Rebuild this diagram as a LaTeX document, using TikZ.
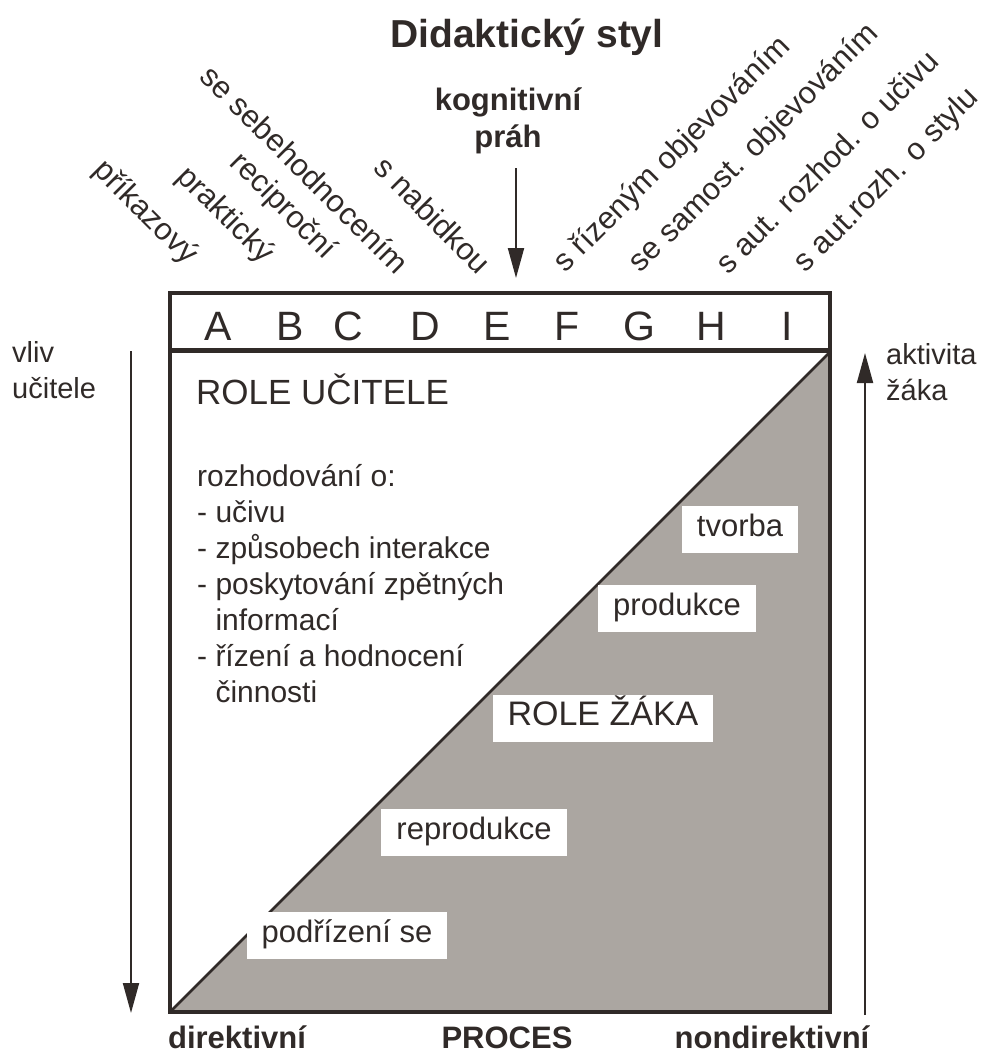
\documentclass[tikz,border=0pt]{standalone}
\usepackage{fontspec}
\setmainfont{Liberation Sans}
\usetikzlibrary{arrows.meta}
\definecolor{ink}{RGB}{48,42,40}
\definecolor{pupilgray}{RGB}{171,166,161}
\def\fs#1{\fontsize{#1}{#1}\selectfont}
\tikzset{
	lbl/.style={text=ink, inner sep=0pt},
	stylename/.style={lbl, font=\fs{31}},
	roletag/.style={fill=white, text=ink, inner xsep=15pt, inner ysep=9pt, text height=22pt, text depth=7pt, font=\fs{31}},
	bigarrow/.style={draw=ink, line width=2pt, -{Triangle[length=30pt,width=16pt,fill=ink]}}
}

\begin{document}
\begin{tikzpicture}[x=1pt,y=-1pt]
			%%%%% START %%%%%
			\useasboundingbox (0,0) rectangle (989,1055);
			
			\node[lbl, font=\bfseries\fs{39}, anchor=base] (title) at (527,47) {Didaktický styl};
			\node[lbl, font=\bfseries\fontsize{31}{37}\selectfont, align=center] (prah) at (508,121) {kognitivní\\práh};
			\coordinate (prahtip) at (516,278);
			\draw[bigarrow] ([yshift=-14pt]prah.south -| prahtip) -- (prahtip);
			
			% styles, left group
			\node[stylename, rotate=-45, anchor=east] (sA) at (192,260) {příkazový};
			\node[stylename, rotate=-45, anchor=east] (sB) at (268,259) {praktický};
			\node[stylename, rotate=-45, anchor=east] (sC) at (331,255) {reciproční};
			\node[stylename, rotate=-45, anchor=east] (sD) at (404,268) {se sebehodnocením};
			\node[stylename, rotate=-45, anchor=east] (sE) at (486,268) {s nabidkou};
			
			% styles, right group
			\node[stylename, rotate=45, anchor=west] (sF) at (560,268) {s řízeným objevováním};
			\node[stylename, rotate=45, anchor=west] (sG) at (635,268) {se samost. objevováním};
			\node[stylename, rotate=45, anchor=west] (sH) at (720,268) {s aut. rozhod. o učivu};
			\node[stylename, rotate=45, anchor=west] (sI) at (800,268) {s aut.rozh. o stylu};
			
			% box
			\fill[pupilgray] (170,1012) -- (830,352) -- (830,1012) -- cycle;
			\draw[ink, line width=2.5pt] (170,1012) -- (830,352);
			\draw[ink, line width=5pt] (170,350) -- (830,350);
			\draw[ink, line width=4pt] (170,293) rectangle (830,1012);
			
			\foreach \ltr/\xx in {A/218,B/290,C/348,D/425,E/497,F/567,G/639,H/711,I/787}
				\node[lbl, font=\fs{41}, anchor=base] (col\ltr) at (\xx,340) {\ltr};
			
			% side arrows
			\coordinate (vlivtop) at (131,351);
			\coordinate (vlivend) at (131,1013);
			\draw[bigarrow] (vlivtop) -- (vlivend);
			\coordinate (aktbot) at (865,1015);
			\coordinate (akttop) at (865,353);
			\draw[bigarrow] (aktbot) -- (akttop);
			
			\node[lbl, font=\fontsize{29}{36}\selectfont, align=left, anchor=north west] (vliv) at (12,341) {vliv\\učitele};
			\node[lbl, font=\fontsize{29}{36}\selectfont, align=left, anchor=north west] (aktivita) at (886,343) {aktivita\\žáka};
			
			% teacher
			\node[lbl, font=\fs{35}, anchor=base west] (roleu) at (196,404) {ROLE UČITELE};
			\node[lbl, font=\fontsize{30}{36}\selectfont, align=left, anchor=north west] (decide) at (197,464) {rozhodování o:\\- učivu\\- způsobech interakce\\- poskytování zpětných\\\hphantom{- }informací\\- řízení a hodnocení\\\hphantom{- }činnosti};
			
			% pupil
			\node[roletag] (tvorba) at (740,529) {tvorba};
			\node[roletag] (produkce) at (677,608) {produkce};
			\node[roletag, font=\fs{34}] (rolez) at (603,718) {ROLE ŽÁKA};
			\node[roletag] (reprodukce) at (474,832) {reprodukce};
			\node[roletag] (podrizeni) at (347,935) {podřízení se};
			
			\node[lbl, font=\bfseries\fs{31}, anchor=base] (direkt) at (237,1048) {direktivní};
			\node[lbl, font=\bfseries\fs{31}, anchor=base] (proces) at (507,1048) {PROCES};
			\node[lbl, font=\bfseries\fs{31}, anchor=base] (nondirekt) at (772,1048) {nondirektivní};
			
			%%%%% END %%%%%
\end{tikzpicture}
\end{document}
